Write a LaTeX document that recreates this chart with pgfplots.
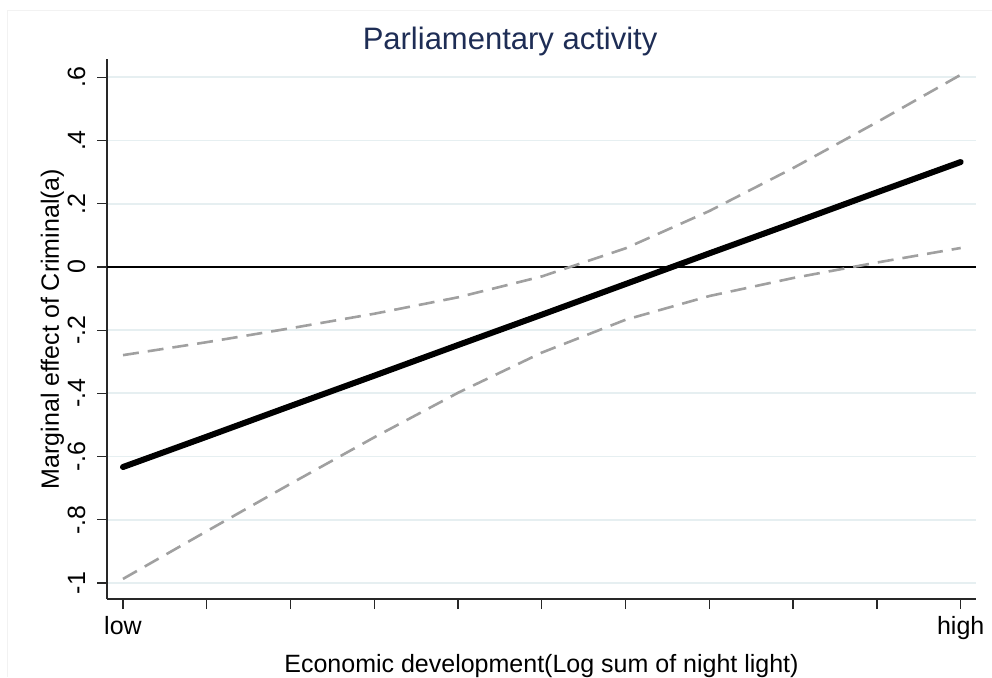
\documentclass[border=0pt]{standalone}
\usepackage{fontspec}
\setmainfont{Liberation Sans}
\usepackage{pgfplots}
\usepackage{pgfplotstable}
\pgfplotsset{compat=1.18}

\definecolor{titlenavy}{RGB}{30,45,85}
\definecolor{gridblue}{RGB}{230,239,241}
\definecolor{cigray}{RGB}{160,160,160}
\definecolor{axisdark}{RGB}{40,40,40}

% marginal effect and 95% bounds
\pgfplotstableread{
x   est     lo      hi
0   -0.633  -0.987  -0.279
1   -0.537  -0.836  -0.238
2   -0.440  -0.686  -0.194
3   -0.344  -0.539  -0.148
4   -0.247  -0.398  -0.096
5   -0.151  -0.271  -0.030
6   -0.054  -0.167   0.059
7    0.043  -0.092   0.177
8    0.139  -0.035   0.313
9    0.236   0.014   0.458
10   0.332   0.060   0.608
}\meffect

\begin{document}
\begin{tikzpicture}
\useasboundingbox (-107pt,-78pt) rectangle (885pt,599pt);
\draw[gray!10, line width=1pt] (-99pt,-78pt) -- (-99pt,588pt) -- (885pt,588pt);
\begin{axis}[
    at={(0,0)}, anchor=south west,
    scale only axis, width=869pt, height=540pt,
    xmin=-0.191, xmax=10.183, ymin=-1.0506, ymax=0.658,
    axis lines*=left,
    axis line style={-, axisdark, line width=1.3pt},
    tick align=outside, major tick length=10pt,
    tick style={axisdark, line width=1.3pt},
    xtick={0,...,10}, xticklabels={low,,,,,,,,,,high},
    ytick={-1,-0.8,-0.6,-0.4,-0.2,0,0.2,0.4,0.6},
    yticklabels={-1,-.8,-.6,-.4,-.2,0,.2,.4,.6},
    ymajorgrids, grid style={gridblue, line width=1.8pt},
    ticklabel style={font=\fontsize{25}{30}\selectfont},
    xticklabel style={yshift=-25pt, anchor=base},
    yticklabel style={xshift=-12pt, rotate=90, anchor=base},
    label style={font=\fontsize{25}{30}\selectfont},
    xlabel={Economic development(Log sum of night light)},
    ylabel={Marginal effect of Criminal(a)},
    xlabel style={at={(axis description cs:0.5,-0.137)}, anchor=base},
    ylabel style={at={(axis description cs:-0.0555,0.5)}, anchor=base},
    title={Parliamentary activity},
    title style={at={(axis description cs:0.4638,1.0056)}, anchor=base,
        font=\fontsize{31}{37}\selectfont, text=titlenavy},
]
\addplot[black, line width=2pt] coordinates {(-0.191,0) (10.183,0)};
\addplot[cigray, line width=2.6pt, dash pattern=on 16pt off 9pt] table[x=x, y=hi] {\meffect};
\addplot[cigray, line width=2.6pt, dash pattern=on 16pt off 9pt] table[x=x, y=lo] {\meffect};
\addplot[black, line width=6pt, line cap=round] table[x=x, y=est] {\meffect};
\end{axis}
\end{tikzpicture}
\end{document}
